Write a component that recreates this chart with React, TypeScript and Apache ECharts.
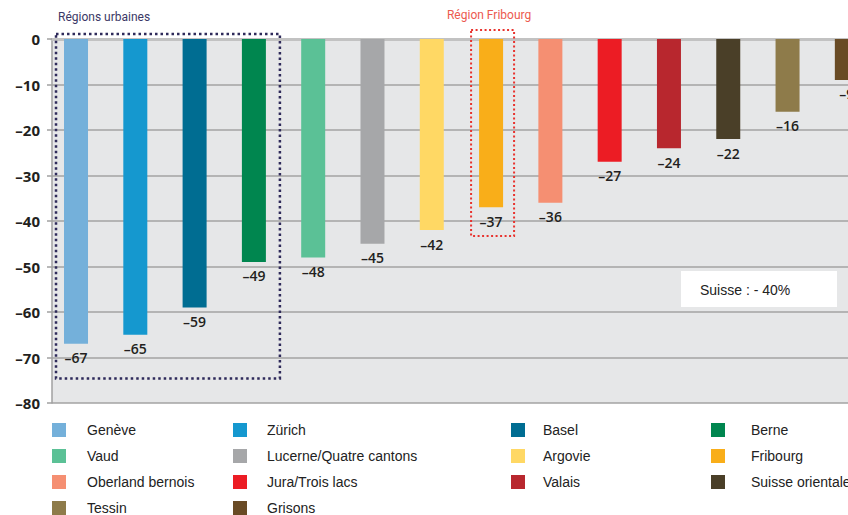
import React, { useEffect, useRef } from "react";
import * as echarts from "echarts";

// Régions et variation (%) représentées par les barres
const regions = [
  "Genève",
  "Zürich",
  "Basel",
  "Berne",
  "Vaud",
  "Lucerne/Quatre cantons",
  "Argovie",
  "Fribourg",
  "Oberland bernois",
  "Jura/Trois lacs",
  "Valais",
  "Suisse orientale",
  "Tessin",
  "Grisons",
];
const variations = [-67, -65, -59, -49, -48, -45, -42, -37, -36, -27, -24, -22, -16, -9];
const barColors = [
  "#74b0da",
  "#1598cf",
  "#006d92",
  "#00864f",
  "#5bc196",
  "#a6a7a9",
  "#ffd864",
  "#f9ae19",
  "#f58f72",
  "#ec1c24",
  "#b8272e",
  "#4a3f28",
  "#8e7b4a",
  "#694b25",
];
const yTicks = [0, -10, -20, -30, -40, -50, -60, -70, -80];

// Colonnes de la légende
const legendColumns = [
  ["Genève", "Vaud", "Oberland bernois", "Tessin"],
  ["Zürich", "Lucerne/Quatre cantons", "Jura/Trois lacs", "Grisons"],
  ["Basel", "Argovie", "Valais"],
  ["Berne", "Fribourg", "Suisse orientale"],
];
const legendLeft = [52, 233, 511, 711];
const legendTextGap = [16, 15, 13, 21];

const urbanRange = [0, 3];
const urbanDepth = -74.6;
const fribourgIndex = 7;
const fribourgDepth = -43.3;
const suisseText = "Suisse : - 40%";

const minus = (v: number) => (v === 0 ? "0" : "–" + Math.abs(v));

export default function App() {
  const ref = useRef<HTMLDivElement>(null);

  useEffect(() => {
    if (!ref.current) return;
    const chart = echarts.init(ref.current, null, { renderer: "svg" });

    const series = regions.map((name, i) => ({
      name,
      type: "bar" as const,
      data: [[i, variations[i]]],
      barWidth: 24,
      barGap: "-100%",
      itemStyle: { color: barColors[i] },
      label: {
        show: true,
        position: "bottom" as const,
        distance: 7,
        formatter: (p: any) => minus(p.value[1]),
        color: "#231f20",
        fontSize: 14,
        fontWeight: 600,
        fontFamily: "'Open Sans', sans-serif",
      },
    }));

    const legends = legendColumns.map((names, c) => ({
      data: names,
      orient: "vertical" as const,
      left: legendLeft[c],
      top: 423,
      padding: 0,
      itemWidth: 14,
      itemHeight: 14,
      itemGap: 12,
      icon: "rect",
      selectedMode: false,
      textStyle: {
        fontSize: 14,
        lineHeight: 14,
        color: "#222",
        fontFamily: "'Liberation Sans', Arial, sans-serif",
        padding: [0, 0, 0, legendTextGap[c]],
      },
    }));

    chart.setOption({
      animation: false,
      grid: {
        left: 52,
        right: 22,
        top: 39,
        bottom: 112,
        show: true,
        backgroundColor: "#e6e7e8",
        borderWidth: 0,
      },
      legend: legends,
      xAxis: {
        type: "value",
        min: -0.405,
        max: 14.2,
        position: "top",
        axisLine: { show: true, onZero: false, lineStyle: { color: "#c2c2c2", width: 3 } },
        axisTick: { show: false },
        axisLabel: { show: false },
        splitLine: { show: false },
      },
      yAxis: {
        type: "value",
        min: -80,
        max: 0,
        interval: 10,
        axisLine: { show: true, onZero: false, lineStyle: { color: "#a0a0a0", width: 1.5 } },
        axisTick: { show: true, length: 5, lineStyle: { color: "#a0a0a0", width: 1.5 } },
        axisLabel: {
          margin: 12,
          color: "#231f20",
          fontSize: 15,
          fontWeight: "bold",
          fontFamily: "'Open Sans', sans-serif",
          formatter: (v: number) => (yTicks.includes(v) ? minus(v) : ""),
        },
        splitLine: { show: true, lineStyle: { color: "#a3a3a3", width: 1.5 } },
      },
      series,
    });

    // Encadrés pointillés placés d'après les coordonnées des barres
    const px = (x: number, y: number) =>
      chart.convertToPixel({ gridIndex: 0 }, [x, y]) as number[];
    const u0 = px(urbanRange[0], 0);
    const u1 = px(urbanRange[1], urbanDepth);
    const f0 = px(fribourgIndex, 0);
    const f1 = px(fribourgIndex, fribourgDepth);

    chart.setOption({
      graphic: [
        {
          type: "rect",
          shape: { x: u0[0] - 20, y: u0[1] - 5, width: u1[0] + 26 - (u0[0] - 20), height: u1[1] - u0[1] + 5 },
          style: { fill: "none", stroke: "#2e2a5a", lineWidth: 2.5, lineDash: [2.5, 3] },
          z: 100,
        },
        {
          type: "text",
          left: u0[0] - 18,
          top: 11,
          style: {
            text: "Régions urbaines",
            fill: "#3b3866",
            fontSize: 12,
            fontFamily: "'Liberation Sans Narrow', Roboto, sans-serif",
          },
        },
        {
          type: "rect",
          shape: { x: f0[0] - 20, y: f0[1] - 9, width: 43, height: f1[1] - f0[1] + 9 },
          style: { fill: "none", stroke: "#e8332e", lineWidth: 2, lineDash: [2, 2.5] },
          z: 100,
        },
        {
          type: "text",
          x: f0[0] - 2,
          y: 15,
          style: {
            text: "Région Fribourg",
            fill: "#ec5a4f",
            fontSize: 12,
            align: "center",
            verticalAlign: "middle",
            fontFamily: "'Liberation Sans Narrow', Roboto, sans-serif",
          },
        },
        {
          type: "rect",
          shape: { x: 681, y: 271, width: 156, height: 36 },
          style: { fill: "#ffffff" },
          z: 100,
        },
        {
          type: "text",
          x: 700,
          y: 290,
          z: 101,
          style: {
            text: suisseText,
            fill: "#222",
            fontSize: 14,
            verticalAlign: "middle",
            fontFamily: "'Liberation Sans', Arial, sans-serif",
          },
        },
      ],
    });

    return () => chart.dispose();
  }, []);

  return (
    <div
      style={{
        position: "absolute",
        left: 0,
        top: 0,
        width: 848,
        height: 515,
        overflow: "hidden",
        background: "#fff",
      }}
    >
      <div ref={ref} style={{ width: 940, height: 515 }} />
    </div>
  );
}
